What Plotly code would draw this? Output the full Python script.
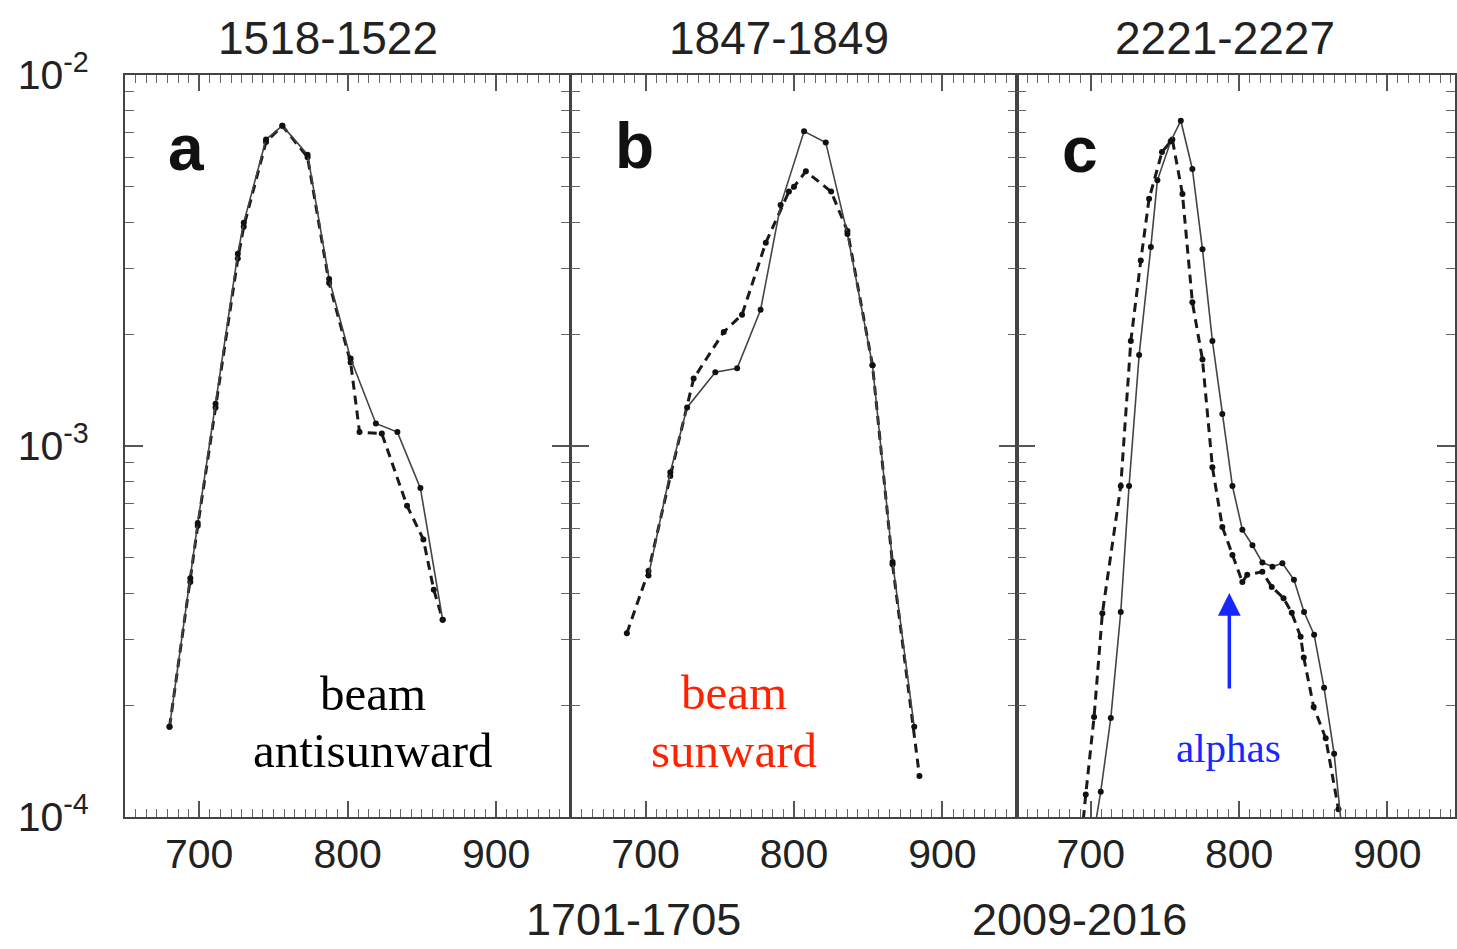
import plotly.graph_objects as go

# ---------------- data ----------------
# panel a : 1518-1522 (beam antisunward)
a_solid_e = [680, 694, 699, 711, 726, 730, 745, 756, 773, 787.5, 802, 819, 833.5, 849, 864]
a_solid_y = [1.75e-4, 4.4e-4, 6.2e-4, 1.3e-3, 3.3e-3, 4.0e-3, 6.7e-3, 7.3e-3, 6.1e-3, 2.82e-3, 1.72e-3, 1.15e-3, 1.09e-3, 7.7e-4, 3.4e-4]
a_dash_e = [680, 694, 699, 711, 726, 730, 745, 756, 773, 787.5, 802, 808, 823, 840, 851, 858, 864]
a_dash_y = [1.75e-4, 4.3e-4, 6.1e-4, 1.27e-3, 3.2e-3, 3.9e-3, 6.6e-3, 7.3e-3, 6.0e-3, 2.75e-3, 1.68e-3, 1.09e-3, 1.08e-3, 6.9e-4, 5.6e-4, 4.1e-4, 3.4e-4]

# panel b : 1847-1849 (beam sunward)
b_solid_e = [702, 716.7, 728, 747, 761.7, 777.5, 791, 806.8, 821.4, 836, 852.9, 866.4, 881]
b_solid_y = [4.48e-4, 8.5e-4, 1.27e-3, 1.58e-3, 1.62e-3, 2.33e-3, 4.46e-3, 7.05e-3, 6.58e-3, 3.73e-3, 1.65e-3, 4.87e-4, 1.75e-4]
b_dash_e = [687.4, 702, 716.7, 732.4, 752.7, 765, 781, 796.6, 800, 808, 825, 836, 852.9, 866.4, 884.5]
b_dash_y = [3.13e-4, 4.6e-4, 8.3e-4, 1.52e-3, 2.03e-3, 2.26e-3, 3.53e-3, 4.85e-3, 5.0e-3, 5.5e-3, 4.85e-3, 3.8e-3, 1.65e-3, 4.8e-4, 1.29e-4]

# panel c : 2221-2227 (alphas)
c_solid_e = [702, 706.7, 713.5, 720.2, 725.8, 732.6, 740.5, 744.9, 753.9, 760.7, 768.5, 775.3, 782,
             788.7, 795.5, 802.2, 809, 815.7, 822.5, 829.2, 837, 843.8, 850.6, 857.3, 864.1, 869]
c_solid_y = [9.0e-5, 1.17e-4, 1.85e-4, 3.57e-4, 7.8e-4, 1.76e-3, 3.44e-3, 5.2e-3, 6.63e-3, 7.53e-3, 5.58e-3, 3.39e-3, 1.92e-3,
             1.22e-3, 7.8e-4, 5.95e-4, 5.4e-4, 4.85e-4, 4.73e-4, 4.83e-4, 4.36e-4, 3.57e-4, 3.1e-4, 2.23e-4, 1.48e-4, 9.5e-5]
c_dash_e = [694, 696.6, 702.2, 707.8, 720.2, 727, 733.7, 739.3, 748, 755, 761.8, 768.5, 775.3, 782, 788.7,
            795.5, 802.2, 805.5, 815.7, 822, 830, 835.5, 841.5, 843.6, 850.3, 858.4, 867]
c_dash_y = [9.0e-5, 1.15e-4, 1.86e-4, 3.54e-4, 7.8e-4, 1.92e-3, 3.16e-3, 4.64e-3, 6.2e-3, 6.7e-3, 4.78e-3, 2.44e-3, 1.71e-3, 8.77e-4, 6.05e-4,
            5.08e-4, 4.3e-4, 4.5e-4, 4.58e-4, 4.17e-4, 3.89e-4, 3.55e-4, 3.06e-4, 2.69e-4, 1.98e-4, 1.63e-4, 1.05e-4]

top_titles = ["1518-1522", "1847-1849", "2221-2227"]
bottom_titles = ["1701-1705", "2009-2016"]
panel_letters = ["a", "b", "c"]
x_tickvals = [700, 800, 900]
x_ticktext = ["700", "800", "900"]
y_tickvals = [1e-4, 1e-3, 1e-2]
y_ticktext = ["10<sup>-4</sup>", "10<sup>-3</sup>", "10<sup>-2</sup>"]
y_minor = [m * 10.0 ** e for e in (-4, -3) for m in range(2, 10)]

# ---------------- layout geometry ----------------
W, H = 1457, 949
L, R, T, B = 125, 0, 75, 132
PW, PH = W - L - R, H - T - B


def fx(x):
    return (x - L) / PW


def fy(y):
    return (H - B - y) / PH


domains = [[fx(125), fx(571)], [fx(572), fx(1018)], [fx(1018), 1.0]]
xranges = [[650, 950], [650, 950], [650, 945.6]]

fig = go.Figure()
panels = [(a_solid_e, a_solid_y, a_dash_e, a_dash_y),
          (b_solid_e, b_solid_y, b_dash_e, b_dash_y),
          (c_solid_e, c_solid_y, c_dash_e, c_dash_y)]

for i, (se, sy, de, dy) in enumerate(panels):
    sfx = "" if i == 0 else str(i + 1)
    fig.add_trace(go.Scatter(x=de, y=dy, mode="lines+markers", xaxis="x" + sfx, yaxis="y" + sfx,
                             line=dict(color="#1a1a1a", width=3, dash="9px,6px"),
                             marker=dict(size=6, color="#111111"), showlegend=False))
    fig.add_trace(go.Scatter(x=se, y=sy, mode="lines+markers", xaxis="x" + sfx, yaxis="y" + sfx,
                             line=dict(color="#444444", width=1.6),
                             marker=dict(size=6, color="#111111"), showlegend=False))

axis_font = dict(family="Liberation Sans, Arial, sans-serif", size=41, color="#222222")
for i in range(3):
    sfx = "" if i == 0 else str(i + 1)
    fig.layout["xaxis" + sfx] = dict(
        domain=domains[i], range=xranges[i], anchor="y" + sfx,
        tickmode="array", tickvals=x_tickvals, ticktext=x_ticktext,
        ticks="inside", ticklen=16, tickwidth=1.5, tickcolor="#555555",
        minor=dict(tickmode="linear", tick0=700, dtick=100 / 14, ticks="inside",
                   ticklen=8, tickwidth=1.2, tickcolor="#666666", showgrid=False),
        showline=True, linecolor="#444444", linewidth=2, mirror="ticks",
        showgrid=False, zeroline=False, tickfont=axis_font, ticklabelstandoff=0,
    )
    fig.layout["yaxis" + sfx] = dict(
        domain=[0, 1], type="log", range=[-4, -2], anchor="x" + sfx,
        tickmode="array", tickvals=y_tickvals, ticktext=y_ticktext,
        showticklabels=(i == 0),
        ticks="inside", ticklen=18, tickwidth=1.5, tickcolor="#555555",
        minor=dict(tickmode="array", tickvals=y_minor, ticks="inside",
                   ticklen=9, tickwidth=1.2, tickcolor="#666666", showgrid=False),
        showline=True, linecolor="#444444", linewidth=2, mirror="ticks",
        showgrid=False, zeroline=False, tickfont=axis_font, ticklabelstandoff=26,
    )

ann = []
title_font = dict(family="Liberation Sans, Arial, sans-serif", size=46, color="#222222")
for t, xp in zip(top_titles, [328, 780, 1227]):
    ann.append(dict(text=t, x=fx(xp), y=fy(38), xref="paper", yref="paper",
                    xanchor="center", yanchor="middle", showarrow=False, font=title_font))
bottom_font = dict(family="Liberation Sans, Arial, sans-serif", size=45, color="#222222")
for t, xp in zip(bottom_titles, [634, 1081]):
    ann.append(dict(text=t, x=fx(xp), y=fy(919), xref="paper", yref="paper",
                    xanchor="center", yanchor="middle", showarrow=False, font=bottom_font))

letter_font = dict(family="Liberation Sans, Arial, sans-serif", size=64, color="#111111")
for t, xp, yp in zip(panel_letters, [186, 635, 1081], [148, 146, 150]):
    ann.append(dict(text="<b>" + t + "</b>", x=fx(xp), y=fy(yp), xref="paper", yref="paper",
                    xanchor="center", yanchor="middle", showarrow=False, font=letter_font))

serif = "Liberation Serif, Times New Roman, serif"
label_specs = [("beam", 373, 693, "#000000", 49), ("antisunward", 373, 750, "#000000", 49),
               ("beam", 735, 692, "#ff2200", 49), ("sunward", 735, 750, "#ff2200", 49),
               ("alphas", 1230, 748, "#1428ff", 41)]
for t, xp, yp, col, sz in label_specs:
    ann.append(dict(text=t, x=fx(xp), y=fy(yp), xref="paper", yref="paper",
                    xanchor="center", yanchor="middle", showarrow=False,
                    font=dict(family=serif, size=sz, color=col)))

# blue arrow pointing at the alpha shoulder
ann.append(dict(text="", x=fx(1231), y=fy(593), xref="paper", yref="paper",
                ax=0, ay=97, axref="pixel", ayref="pixel", showarrow=True,
                arrowhead=2, arrowsize=1.3, arrowwidth=3.5, arrowcolor="#1428ff",
                standoff=0, startstandoff=0))

fig.update_layout(width=W, height=H, margin=dict(l=L, r=R, t=T, b=B, pad=0),
                  plot_bgcolor="white", paper_bgcolor="white", annotations=ann,
                  showlegend=False)

fig.write_html("out.html")
